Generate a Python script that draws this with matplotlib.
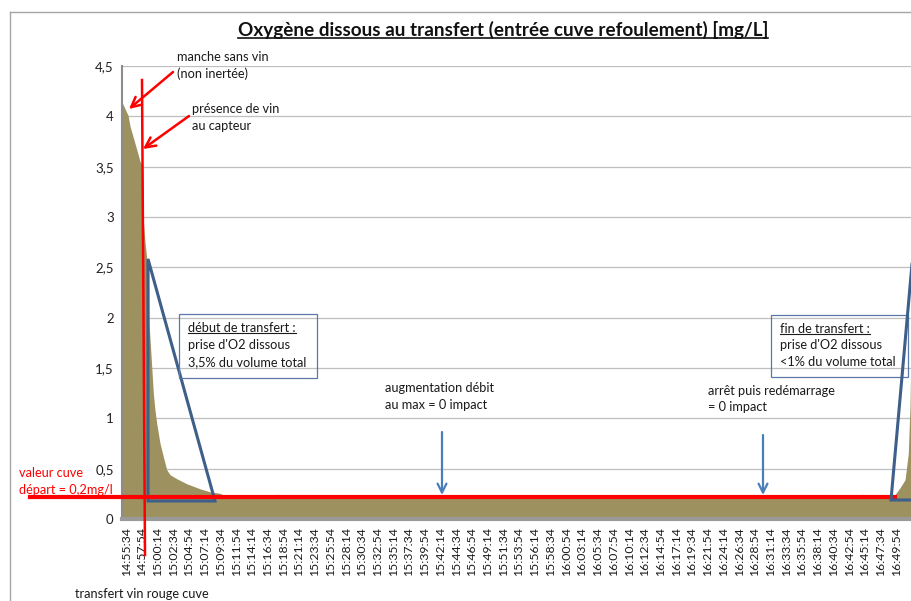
import matplotlib
matplotlib.use("Agg")
import matplotlib.pyplot as plt
from matplotlib.lines import Line2D
from matplotlib.patches import Polygon, Rectangle, FancyArrowPatch

plt.rcParams['font.family'] = ['Lato', 'DejaVu Sans']

# ---------------- data ----------------
# x tick labels (one every 140 s, starting 14:55:34)
tick_labels = ["14:55:34", "14:57:54", "15:00:14", "15:02:34", "15:04:54", "15:07:14",
               "15:09:34", "15:11:54", "15:14:14", "15:16:34", "15:18:54", "15:21:14",
               "15:23:34", "15:25:54", "15:28:14", "15:30:34", "15:32:54", "15:35:14",
               "15:37:34", "15:39:54", "15:42:14", "15:44:34", "15:46:54", "15:49:14",
               "15:51:34", "15:53:54", "15:56:14", "15:58:34", "16:00:54", "16:03:14",
               "16:05:34", "16:07:54", "16:10:14", "16:12:34", "16:14:54", "16:17:14",
               "16:19:34", "16:21:54", "16:24:14", "16:26:34", "16:28:54", "16:31:14",
               "16:33:34", "16:35:54", "16:38:14", "16:40:34", "16:42:54", "16:45:14",
               "16:47:34", "16:49:54"]
tick_step_s = 140

# measurement times (seconds after 14:55:34) and dissolved O2 (mg/L)
t_sec = [-36, 18, 36, 80, 125, 142, 146, 154, 169, 184, 200, 205, 229, 243, 258, 273,
         303, 332, 362, 392, 452, 541, 659, 748, 837, 864, 930,
         1340, 1354, 1368, 1460, 1470, 1480, 1540, 1550, 1560, 1610, 1620, 1630,
         2560, 2570, 2580, 3020, 3030, 3040, 3500, 4200, 4900, 5600,
         5990, 6000, 6010, 6240, 6250, 6260, 6470, 6480, 6490, 6550, 6560, 6570,
         6630, 6640, 6650, 6700, 6710, 6720,
         6834, 6893, 6938, 6967, 6982, 6991, 7000, 7020]
o2_mgL = [4.14, 4.01, 3.90, 3.73, 3.55, 3.52, 3.50, 2.97, 2.75, 2.59, 2.59, 1.94, 1.51,
          1.25, 1.08, 0.95, 0.75, 0.62, 0.49, 0.44, 0.40, 0.35, 0.30, 0.27, 0.255, 0.24, 0.21,
          0.205, 0.25, 0.205, 0.205, 0.245, 0.205, 0.205, 0.245, 0.205, 0.205, 0.245, 0.205,
          0.205, 0.24, 0.205, 0.205, 0.24, 0.205, 0.205, 0.205, 0.205, 0.205,
          0.205, 0.245, 0.205, 0.205, 0.245, 0.205, 0.205, 0.245, 0.205, 0.205, 0.25, 0.205,
          0.205, 0.245, 0.205, 0.205, 0.245, 0.205,
          0.22, 0.31, 0.39, 0.65, 1.11, 1.68, 2.60, 3.20]

y_ticks = [0, 0.5, 1, 1.5, 2, 2.5, 3, 3.5, 4, 4.5]
y_tick_labels = ["0", "0,5", "1", "1,5", "2", "2,5", "3", "3,5", "4", "4,5"]

# ---------------- figure ----------------
W, H = 912, 601
fig = plt.figure(figsize=(W / 100, H / 100), dpi=100)


def P(x, y):
    """pixel position (from top-left) -> figure fraction"""
    return (x / W, 1 - y / H)


ax = fig.add_axes([122 / W, 1 - 519 / H, (912 - 122) / W, (519 - 66) / H])
ax.fill_between(t_sec, o2_mgL, 0, color="#9D9160", lw=0, zorder=2)
ax.set_xlim(-36, 7000)
ax.set_ylim(0, 4.5)
ax.set_yticks(y_ticks)
ax.set_yticklabels(y_tick_labels, fontsize=9.5, color="#222222")
ax.set_xticks([i * tick_step_s for i in range(len(tick_labels))])
ax.set_xticklabels(tick_labels, rotation=90, fontsize=8.8, color="#1a1a1a")
ax.tick_params(axis="both", length=0)
ax.tick_params(axis="x", pad=6)
ax.tick_params(axis="y", pad=6)
ax.yaxis.grid(True, color="#BFBFBF", lw=0.9)
ax.set_axisbelow(True)
for s in ("top", "right"):
    ax.spines[s].set_visible(False)
ax.spines["left"].set_color("#8C8C8C")
ax.spines["left"].set_linewidth(1.5)
ax.spines["bottom"].set_color("#9A9A9A")
ax.spines["bottom"].set_linewidth(3)

tf = fig.transFigure

# chart area border
fig.add_artist(Line2D([10 / W, 1], [1 - 12 / H] * 2, color="#A6A6A6", lw=1))
fig.add_artist(Line2D([10 / W] * 2, [1 - 12 / H, 0], color="#A6A6A6", lw=1))

# title
title = fig.text(503 / W, 1 - 30 / H,
                 "Oxygène dissous au transfert (entrée cuve refoulement) [mg/L]",
                 ha="center", va="center", fontsize=13.6, fontweight="bold", color="#111111")

# red reference lines
fig.add_artist(Line2D([30 / W, 895 / W], [1 - 497 / H] * 2, color="#FF0000", lw=3))
fig.add_artist(Line2D([142 / W, 145 / W], [1 - 80 / H, 1 - 555 / H], color="#FF0000", lw=1.8))

# red arrows
for tail, head in [((173, 72), (129, 109)), ((189, 116), (143, 149))]:
    fig.add_artist(FancyArrowPatch(P(*tail), P(*head), transform=tf, arrowstyle="->",
                                   mutation_scale=18, color="#FF0000", lw=1.8,
                                   shrinkA=0, shrinkB=0))

txt_kw = dict(fontsize=9.2, color="#1a1a1a", va="center", ha="left")
fig.text(*P(177, 57), "manche sans vin", **txt_kw)
fig.text(*P(177, 74), "(non inertée)", **txt_kw)
fig.text(*P(192, 109), "présence de vin", **txt_kw)
fig.text(*P(192, 126), "au capteur", **txt_kw)

fig.text(*P(19, 473), "valeur cuve", fontsize=9.2, color="#FF0000", va="center")
fig.text(*P(19, 490), "départ = 0,2mg/l", fontsize=9.2, color="#FF0000", va="center")
fig.text(*P(75, 594), "transfert vin rouge cuve", **txt_kw)

# blue triangles
blue = "#3E5F8A"
fig.add_artist(Polygon([P(148, 259), P(148, 501), P(215, 501)], closed=True, fill=False,
                       edgecolor=blue, lw=2.2, transform=tf, joinstyle="miter"))
fig.add_artist(Line2D([913 / W, 891 / W, 913 / W], [1 - 253 / H, 1 - 500 / H, 1 - 500 / H],
                      color=blue, lw=2.2, solid_joinstyle="miter"))

# text boxes
box_c = "#5A78A8"
fig.add_artist(Rectangle(P(179, 378), (317 - 179) / W, (378 - 314) / H, transform=tf,
                         fill=False, edgecolor=box_c, lw=0.9))
fig.add_artist(Rectangle(P(771, 377), (908 - 771) / W, (377 - 315) / H, transform=tf,
                         fill=False, edgecolor=box_c, lw=0.9))
u1 = fig.text(*P(188, 328), "début de transfert :", **txt_kw)
fig.text(*P(188, 345), "prise d'O2 dissous", **txt_kw)
fig.text(*P(188, 362), "3,5% du volume total", **txt_kw)
u2 = fig.text(*P(780, 329), "fin de transfert :", **txt_kw)
fig.text(*P(780, 345), "prise d'O2 dissous", **txt_kw)
fig.text(*P(780, 362), "<1% du volume total", **txt_kw)

# blue arrows (events)
arrow_c = "#4A7EBB"
for x, y0 in [(442, 432), (763, 435)]:
    fig.add_artist(FancyArrowPatch(P(x, y0), P(x, 495), transform=tf, arrowstyle="->",
                                   mutation_scale=16, color=arrow_c, lw=1.6,
                                   shrinkA=0, shrinkB=0))
fig.text(*P(385, 388), "augmentation débit", **txt_kw)
fig.text(*P(385, 405), "au max = 0 impact", **txt_kw)
fig.text(*P(708, 391), "arrêt puis redémarrage", **txt_kw)
fig.text(*P(708, 407), "= 0 impact", **txt_kw)

# underlines
fig.canvas.draw()
for t, lw in [(title, 1.2), (u1, 0.8), (u2, 0.8)]:
    bb = t.get_window_extent()
    fig.add_artist(Line2D([bb.x0, bb.x1], [bb.y0 + 1.5, bb.y0 + 1.5], transform=None,
                          color=t.get_color(), lw=lw))

fig.savefig("out.png", dpi=100)
